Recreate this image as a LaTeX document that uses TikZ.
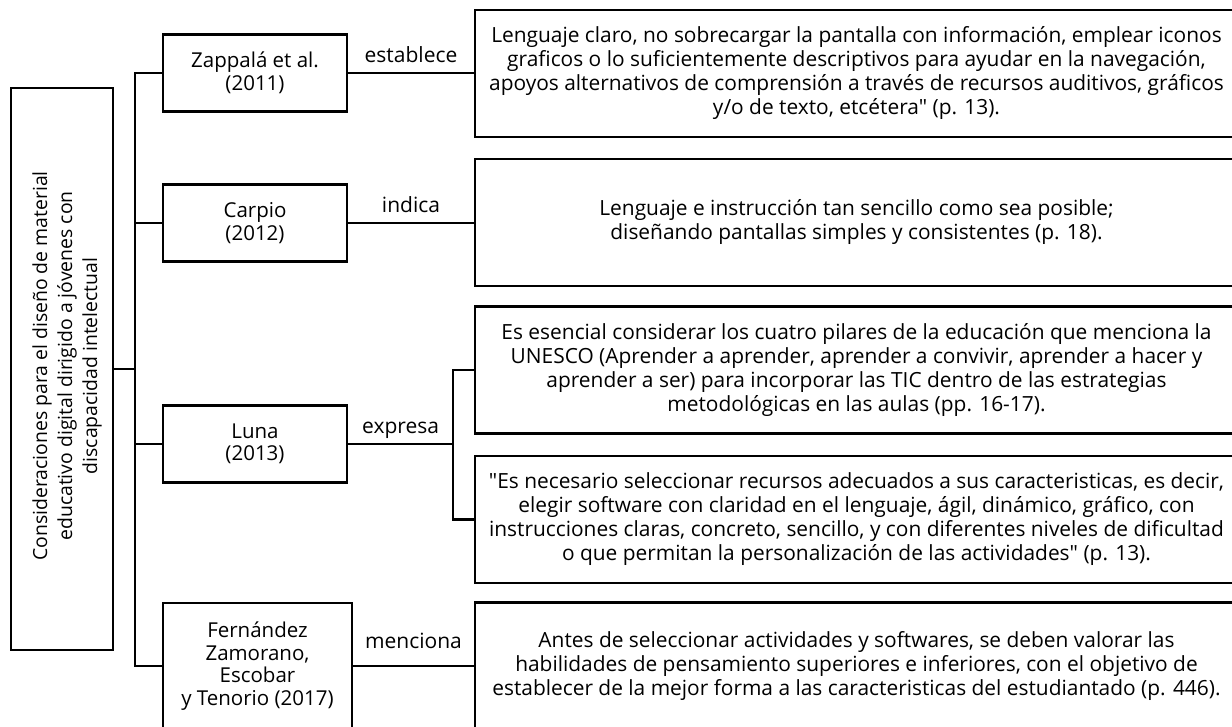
\documentclass[tikz,border=0pt]{standalone}
\usepackage{fontspec}
\setmainfont{Open Sans}
\newfontfamily\textosans{Open Sans}
\usetikzlibrary{positioning}

\begin{document}
\begin{tikzpicture}[-,x=1pt,y=-1pt,line width=2.7pt,
                    every node/.style={inner sep=0pt}]
  \tikzstyle{autor}=[draw,align=center,minimum width=184pt,minimum height=77pt,
                     font=\textosans\fontsize{20.5}{22.5}\selectfont]
  \tikzstyle{cita}=[draw,align=center,minimum width=763pt,minimum height=127pt,
                    font=\textosans\fontsize{20.9}{24}\selectfont]
  \tikzstyle{verbo}=[anchor=base,yshift=10.5pt,font=\textosans\fontsize{21}{24}\selectfont]

  \useasboundingbox (0,0) rectangle (1232,727);
  \clip (0,0) rectangle (1232,727);

  \node[draw,minimum width=102pt,minimum height=562pt] (Main) at (62,369) {};
  \node[rotate=90,align=center,font=\textosans\fontsize{19.4}{25}\selectfont]
       (MainTexto) at (67,366)
    {Consideraciones para el diseño de material\\
     educativo digital dirigido a jóvenes con\\
     discapacidad intelectual};

  \node[autor] (Zappala)   at (255,73)    {Zappalá et al.\\(2011)};
  \node[autor] (Carpio)    at (255,223)   {Carpio\\(2012)};
  \node[autor] (Luna)      at (255,444)   {Luna\\(2013)};
  \node[autor,minimum width=189pt,minimum height=126pt]
               (Fernandez) at (257.5,666) {Fernández\\Zamorano,\\Escobar\\y Tenorio (2017)};

  \node[cita] (Claro)    at (856.5,73.5)
    {Lenguaje claro, no sobrecargar la pantalla con información, emplear iconos\\
     graficos o lo suficientemente descriptivos para ayudar en la navegación,\\
     apoyos alternativos de comprensión a través de recursos auditivos, gráficos\\
     y/o de texto, etcétera" (p. 13).};
  \node[cita] (Sencillo) at (856.5,222.5)
    {Lenguaje e instrucción tan sencillo como sea posible;\\
     diseñando pantallas simples y consistentes (p. 18).};
  \node[cita] (Pilares)  at (856.5,370)
    {Es esencial considerar los cuatro pilares de la educación que menciona la\\
     UNESCO (Aprender a aprender, aprender a convivir, aprender a hacer y\\
     aprender a ser) para incorporar las TIC dentro de las estrategias\\
     metodológicas en las aulas (pp. 16-17).};
  \node[cita] (Recursos) at (856.5,519.5)
    {"Es necesario seleccionar recursos adecuados a sus caracteristicas, es decir,\\
     elegir software con claridad en el lenguaje, ágil, dinámico, gráfico, con\\
     instrucciones claras, concreto, sencillo, y con diferentes niveles de dificultad\\
     o que permitan la personalización de las actividades" (p. 13).};
  \node[cita] (Antes)    at (856.5,666)
    {Antes de seleccionar actividades y softwares, se deben valorar las\\
     habilidades de pensamiento superiores e inferiores, con el objetivo de\\
     establecer de la mejor forma a las caracteristicas del estudiantado (p. 446).};

  \coordinate (Trunk) at (135,369);
  \coordinate (Fork)  at (453,444);

  \draw (Main) -- (Trunk);
  \draw (Zappala.west) -| (Trunk) |- (Fernandez.west);
  \draw (Carpio.west) -| (Trunk);
  \draw (Luna.west) -| (Trunk);
  \draw (Pilares.west) -| (Fork) |- (Recursos.west);

  \path (Zappala.east)   edge node[verbo] {establece} (Zappala.east -| Claro.west)
        (Carpio.east)    edge node[verbo] {indica}    (Carpio.east -| Sencillo.west)
        (Luna.east)      edge node[verbo] {expresa}   (Fork)
        (Fernandez.east) edge node[verbo,yshift=7pt] {menciona} (Fernandez.east -| Antes.west);
\end{tikzpicture}
\end{document}
